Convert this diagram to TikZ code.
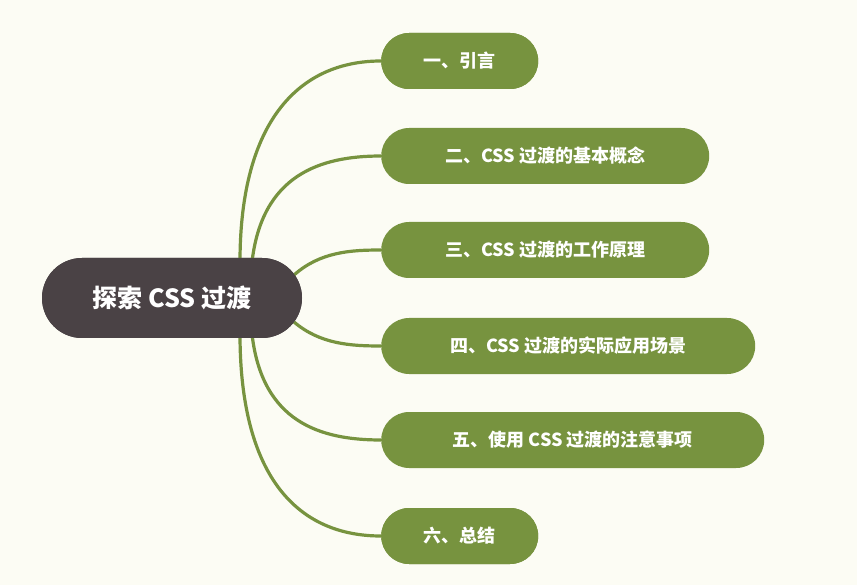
\documentclass[tikz,border=0pt]{standalone}
\usepackage{fontspec}
\setmainfont{Noto Sans CJK SC}
\begin{document}
\begin{tikzpicture}[x=1pt,y=-1pt,
  br/.style={fill=brg,rounded corners=28pt,minimum height=56pt,anchor=west,inner xsep=24pt,text=white,font=\bfseries\fontsize{18}{20}\selectfont},
  con/.style={draw=brg,line width=3.2pt}]
\definecolor{bg}{HTML}{FCFCF4}
\definecolor{brg}{HTML}{77933F}
\definecolor{rootc}{HTML}{4A4245}
\fill[bg] (0,0) rectangle (857,585);
\useasboundingbox (0,0) rectangle (857,585);
\node[fill=rootc,rounded corners=40pt,minimum width=260pt,minimum height=80pt,text=white,font=\bfseries\fontsize{25}{28}\selectfont] (root) at (172,298) {探索 CSS 过渡};
\node[br,minimum width=157pt] (b1) at (381,61) {一、引言};
\node[br,minimum width=328pt] (b2) at (381,156) {二、CSS 过渡的基本概念};
\node[br,minimum width=328pt] (b3) at (381,250) {三、CSS 过渡的工作原理};
\node[br,minimum width=374pt] (b4) at (381,346) {四、CSS 过渡的实际应用场景};
\node[br,minimum width=383pt] (b5) at (381,440) {五、使用 CSS 过渡的注意事项};
\node[br,minimum width=157pt] (b6) at (381,536) {六、总结};
\coordinate (s1) at (240,262);
\coordinate (s2) at (252,262);
\coordinate (s3) at (294,275);
\coordinate (s4) at (294,322);
\coordinate (s5) at (252,334);
\coordinate (s6) at (240,334);
\begin{scope}[on background layer/.style={}]
\draw[con] (s1) .. controls (240,120) and (300,61) .. (b1.west);
\draw[con] (s2) .. controls (262,175) and (320,156) .. (b2.west);
\draw[con] (s3) .. controls (320,252) and (350,250) .. (b3.west);
\draw[con] (s4) .. controls (320,344) and (350,346) .. (b4.west);
\draw[con] (s5) .. controls (262,422) and (320,440) .. (b5.west);
\draw[con] (s6) .. controls (240,480) and (300,536) .. (b6.west);
\end{scope}
\node[fill=rootc,rounded corners=40pt,minimum width=260pt,minimum height=80pt,text=white,font=\bfseries\fontsize{25}{28}\selectfont] at (172,298) {探索 CSS 过渡};
\node[br,minimum width=157pt] at (381,61) {一、引言};
\node[br,minimum width=157pt] at (381,536) {六、总结};
\end{tikzpicture}
\end{document}
